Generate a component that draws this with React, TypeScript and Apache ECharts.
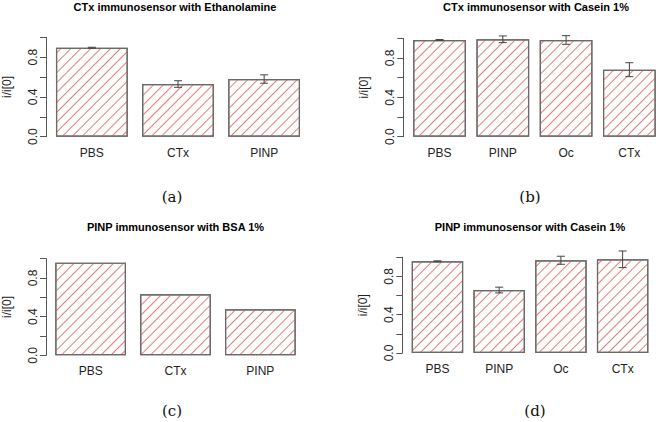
import React, { useEffect, useRef } from "react";
import * as echarts from "echarts";

// ---- Data ----
const titlesText = [
  "CTx immunosensor with Ethanolamine",
  "CTx immunosensor with Casein 1%",
  "PINP immunosensor with BSA 1%",
  "PINP immunosensor with Casein 1%",
];
const captions = ["(a)", "(b)", "(c)", "(d)"];

const catsA = ["PBS", "CTx", "PINP"];
const valsA = [0.895, 0.53, 0.58];
const errA = [0.005, 0.033, 0.042];

const catsB = ["PBS", "PINP", "Oc", "CTx"];
const valsB = [0.983, 0.99, 0.983, 0.681];
const errB = [0.005, 0.034, 0.044, 0.071];

const catsC = ["PBS", "CTx", "PINP"];
const valsC = [0.959, 0.631, 0.476];
const errC: number[] = [];

const catsD = ["PBS", "PINP", "Oc", "CTx"];
const valsD = [0.958, 0.658, 0.969, 0.979];
const errD = [0.005, 0.03, 0.042, 0.087];

const yTicks = ["0.0", "0.4", "0.8"];

const panels = [
  { cats: catsA, vals: valsA, errs: errA },
  { cats: catsB, vals: valsB, errs: errB },
  { cats: catsC, vals: valsC, errs: errC },
  { cats: catsD, vals: valsD, errs: errD },
];

// ---- Layout ----
const grids = [
  { left: 48.5, top: 37.3, width: 258.7, height: 99.4, offset: 2.8 },
  { left: 407.9, top: 38.3, width: 256.7, height: 98.4, offset: 4.6 },
  { left: 47.9, top: 258.7, width: 254.9, height: 96.6, offset: 2.2 },
  { left: 406.6, top: 257.3, width: 246.9, height: 95.7, offset: 4.3 },
];
const titlePos = [
  [175, 6.5],
  [536, 6.5],
  [175.5, 227],
  [530, 227],
];
const captionPos = [
  [172, 197],
  [530, 197],
  [172, 411],
  [535, 411],
];

export default function App() {
  const ref = useRef<HTMLDivElement>(null);
  useEffect(() => {
    if (!ref.current) return;
    const chart = echarts.init(ref.current, null, { renderer: "svg" });
    const decal = {
      symbol: "rect",
      symbolSize: 1,
      color: "#e27d7a",
      dashArrayX: [1, 0],
      dashArrayY: [0.8, 5.7],
      rotation: -Math.PI / 4,
    };
    const series: any[] = [];
    panels.forEach((p, i) => {
      series.push({
        type: "bar",
        xAxisIndex: i,
        yAxisIndex: i,
        data: p.vals,
        barCategoryGap: "16.67%",
        z: 2,
        itemStyle: {
          color: "#ffffff",
          borderColor: "#6a6a6a",
          borderWidth: 1.2,
          decal,
        },
        silent: true,
      });
      if (p.errs.length) {
        series.push({
          type: "custom",
          xAxisIndex: i,
          yAxisIndex: i,
          clip: false,
          silent: true,
          z: 10,
          data: p.vals.map((v, k) => [k, v - p.errs[k], v + p.errs[k]]),
          renderItem: (params: any, api: any) => {
            const x = api.value(0);
            const lo = api.coord([x, api.value(1)]);
            const hi = api.coord([x, api.value(2)]);
            const cap = 4;
            const style = { stroke: "#444444", lineWidth: 1 };
            return {
              type: "group",
              children: [
                { type: "line", shape: { x1: lo[0], y1: lo[1], x2: hi[0], y2: hi[1] }, style },
                { type: "line", shape: { x1: lo[0] - cap, y1: lo[1], x2: lo[0] + cap, y2: lo[1] }, style },
                { type: "line", shape: { x1: hi[0] - cap, y1: hi[1], x2: hi[0] + cap, y2: hi[1] }, style },
              ],
            };
          },
        });
      }
    });

    const graphics: any[] = [];
    titlesText.forEach((t, i) => {
      graphics.push({
        type: "text",
        x: titlePos[i][0],
        y: titlePos[i][1],
        style: {
          text: t,
          fontSize: 11,
          fontWeight: "bold",
          fontFamily: "Liberation Sans, Arial, sans-serif",
          fill: "#000",
          align: "center",
          verticalAlign: "middle",
        },
      });
    });
    captions.forEach((t, i) => {
      graphics.push({
        type: "text",
        x: captionPos[i][0],
        y: captionPos[i][1],
        style: {
          text: t,
          fontSize: 15,
          fontFamily: "DejaVu Serif, Liberation Serif, serif",
          fill: "#111",
          align: "center",
          verticalAlign: "middle",
        },
      });
    });

    chart.setOption({
      animation: false,
      backgroundColor: "#ffffff",
      grid: grids.map((g) => ({ left: g.left, top: g.top, width: g.width, height: g.height, containLabel: false })),
      xAxis: panels.map((p, i) => ({
        type: "category",
        gridIndex: i,
        data: p.cats,
        axisLine: { show: false },
        axisTick: { show: false },
        axisLabel: {
          margin: 10,
          fontSize: 12,
          color: "#222",
          fontFamily: "Liberation Sans, Arial, sans-serif",
        },
      })),
      yAxis: panels.map((p, i) => ({
        type: "value",
        gridIndex: i,
        min: 0,
        max: 1,
        interval: 0.2,
        offset: grids[i].offset,
        name: "i/i[0]",
        nameLocation: "middle",
        nameGap: 33,
        nameTextStyle: { fontSize: 12, color: "#222", fontFamily: "Liberation Sans, Arial, sans-serif" },
        splitLine: { show: false },
        axisLine: { show: true, lineStyle: { color: "#555", width: 1 } },
        axisTick: { show: true, length: 6, lineStyle: { color: "#555" } },
        axisLabel: {
          rotate: 90,
          margin: 7,
          fontSize: 12,
          color: "#222",
          fontFamily: "Liberation Sans, Arial, sans-serif",
          formatter: (v: number) => {
            const s = v.toFixed(1);
            return yTicks.indexOf(s) >= 0 ? s : "";
          },
        },
      })),
      series,
      graphic: graphics,
    });
    return () => chart.dispose();
  }, []);
  return (
    <div
      ref={ref}
      style={{ position: "fixed", left: 0, top: 0, width: 661, height: 422, background: "#fff" }}
    />
  );
}
